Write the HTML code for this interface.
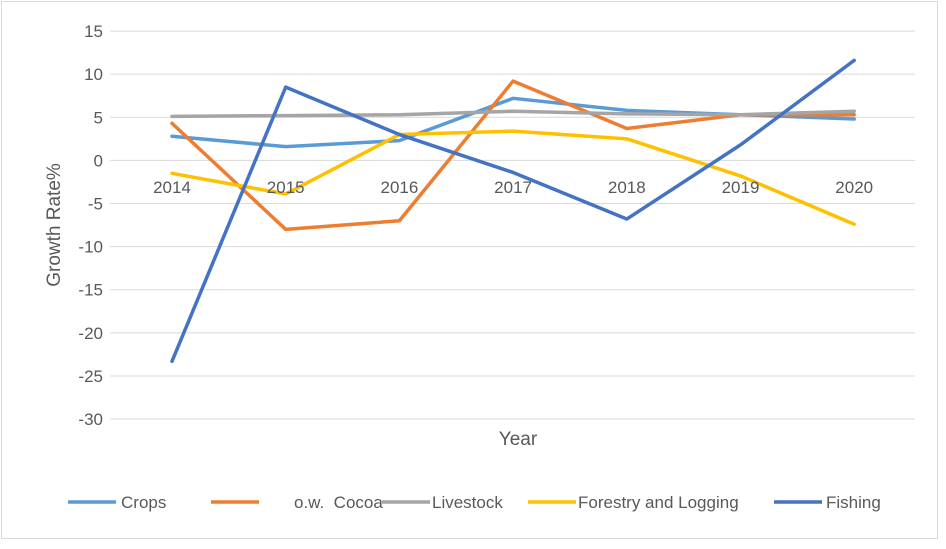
<!DOCTYPE html>
<html><head><meta charset="utf-8"><style>
body{margin:0;background:#fff;width:946px;height:544px;overflow:hidden;font-family:"Liberation Sans",sans-serif}
text{white-space:pre}
</style></head><body>
<svg width="946" height="544" id="c">
<rect x="1.5" y="1.5" width="936" height="537" fill="#fff" stroke="#d9d9d9"/>
<g id="grid"></g><g id="lines"></g><g id="labels"></g>
<text x="518" y="445" font-size="19" fill="#595959" text-anchor="middle">Year</text>
<text transform="translate(60,225) rotate(-90)" font-size="19" fill="#595959" text-anchor="middle">Growth Rate%</text>
<g id="legend"></g>
</svg>
<script>
const years=["2014","2015","2016","2017","2018","2019","2020"];
const crops=[2.8,1.6,2.3,7.2,5.8,5.3,4.8];
const cocoa=[4.3,-8,-7,9.2,3.7,5.3,5.3];
const livestock=[5.1,5.2,5.3,5.7,5.4,5.3,5.7];
const forestry=[-1.5,-3.9,3,3.4,2.5,-1.8,-7.4];
const fishing=[-23.3,8.5,3,-1.4,-6.8,1.8,11.6];
const ticks=[15,10,5,0,-5,-10,-15,-20,-25,-30];
const NS="http://www.w3.org/2000/svg";
const y=v=>160.4-(v)*8.622;
const x=i=>172+i*113.7;
function mk(t,a,p){const e=document.createElementNS(NS,t);for(const k in a)e.setAttribute(k,a[k]);p.appendChild(e);return e;}
const g=document.getElementById('grid'),lb=document.getElementById('labels'),ln=document.getElementById('lines');
ticks.forEach(t=>{
 const l=mk('line',{x1:110,x2:915,y1:y(t),y2:y(t),stroke:'#d9d9d9','stroke-width':1},g);
 
 
 const tx=mk('text',{x:103,y:y(t)+6,'font-size':17,fill:'#595959','text-anchor':'end'},lb);
 tx.textContent=t;
 
 
});
years.forEach((yr,i)=>{
 const tx=mk('text',{x:x(i),y:193,'font-size':17,fill:'#595959','text-anchor':'middle'},lb);
 tx.textContent=yr;
 
 
});
const series=[["Crops",crops,"#5b9bd5"],["o.w.  Cocoa",cocoa,"#ed7d31"],["Livestock",livestock,"#a5a5a5"],["Forestry and Logging",forestry,"#ffc000"],["Fishing",fishing,"#4472c4"]];
series.forEach(s=>{
 const p=mk('polyline',{points:s[1].map((v,i)=>x(i)+','+y(v)).join(' '),fill:'none',stroke:s[2],'stroke-width':3.5,'stroke-linejoin':'round','stroke-linecap':'round'},ln);
 
 
});
const lg=document.getElementById('legend');
const lx=[68,211,382,528,774],tx=[121,294,432,578,826];
series.forEach((s,i)=>{
 const l=mk('line',{x1:lx[i],x2:lx[i]+48,y1:502,y2:502,stroke:s[2],'stroke-width':3.5},lg);
 
 
 const t=mk('text',{x:tx[i],y:508,'font-size':17,fill:'#595959'},lg);
 t.textContent=s[0];
 
 
});
</script>
</body></html>
